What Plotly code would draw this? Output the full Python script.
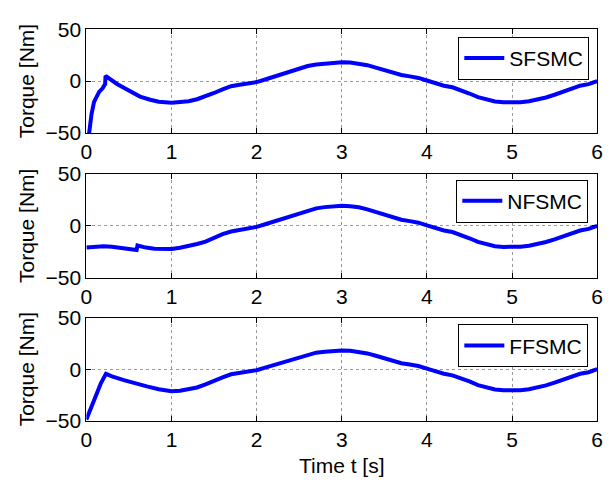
import plotly.graph_objects as go

# ---------------- data ----------------
t_sf = [0.02, 0.03, 0.06, 0.09, 0.12, 0.15, 0.19, 0.22, 0.225, 0.3, 0.36, 0.45, 0.55, 0.63, 0.75, 0.85,
        1.0, 1.1, 1.2, 1.3, 1.4, 1.5, 1.6, 1.7, 1.8, 1.9, 2.0, 2.1, 2.2, 2.3, 2.4, 2.5, 2.6, 2.7, 2.8, 2.9,
        3.0, 3.1, 3.2, 3.3, 3.4, 3.5, 3.6, 3.7, 3.8, 3.9, 4.0, 4.1, 4.2, 4.3, 4.4, 4.5, 4.6, 4.7, 4.8, 4.9,
        5.0, 5.1, 5.2, 5.3, 5.4, 5.5, 5.6, 5.7, 5.8, 5.9, 6.0]
v_sf = [-58, -50, -32, -20, -14, -10.4, -7, -3, 5, 0, -2.8, -7, -12, -15, -18, -20,
        -21, -20.6, -19.5, -17.5, -14.7, -11.5, -8, -5, -3.5, -2.5, -1, 1.5, 4, 6.2, 9, 12, 14.5, 16, 17, 17.8,
        18.2, 17.8, 17, 15.3, 13, 10.5, 8, 5.8, 4.5, 3, 0.5, -2.5, -4.5, -6, -8.5, -12, -15.5, -18, -19.7, -20.5,
        -20.8, -20.5, -19.5, -18, -15.8, -13.2, -10, -6.8, -4.5, -3, 0]

t_nf = [0.0, 0.1, 0.2, 0.3, 0.4, 0.5, 0.59, 0.6, 0.7, 0.8, 0.9,
        1.0, 1.1, 1.2, 1.3, 1.4, 1.5, 1.6, 1.7, 1.8, 1.9, 2.0, 2.1, 2.2, 2.3, 2.4, 2.5, 2.6, 2.7, 2.8, 2.9,
        3.0, 3.1, 3.2, 3.3, 3.4, 3.5, 3.6, 3.7, 3.8, 3.9, 4.0, 4.1, 4.2, 4.3, 4.4, 4.5, 4.6, 4.7, 4.8, 4.9,
        5.0, 5.1, 5.2, 5.3, 5.4, 5.5, 5.6, 5.7, 5.8, 5.9, 6.0]
v_nf = [-21, -20, -19.6, -20.2, -21.5, -22.5, -23.3, -19, -21, -22, -22.5,
        -22.3, -21.2, -19.6, -17.5, -15.2, -11.5, -8, -5.5, -4, -2.8, -1, 1.5, 4, 6.5, 9.5, 12.5, 15, 16.8, 18, 18.8,
        19.2, 18.8, 17.8, 15.8, 13.3, 10.5, 8, 5.8, 4.5, 3, 0.5, -2.5, -4.5, -6, -8.5, -12, -15.5, -18, -19.7, -20.3,
        -20.5, -20.2, -19.2, -17.8, -15.6, -13, -10, -6.8, -4.5, -3, 0]

t_ff = [0.0, 0.05, 0.09, 0.13, 0.17, 0.23, 0.3, 0.44, 0.55, 0.71, 0.85,
        1.0, 1.1, 1.2, 1.3, 1.4, 1.5, 1.6, 1.7, 1.8, 1.9, 2.0, 2.1, 2.2, 2.3, 2.4, 2.5, 2.6, 2.7, 2.8, 2.9,
        3.0, 3.1, 3.2, 3.3, 3.4, 3.5, 3.6, 3.7, 3.8, 3.9, 4.0, 4.1, 4.2, 4.3, 4.4, 4.5, 4.6, 4.7, 4.8, 4.9,
        5.0, 5.1, 5.2, 5.3, 5.4, 5.5, 5.6, 5.7, 5.8, 5.9, 6.0]
v_ff = [-49, -38, -29, -21, -13.8, -4.6, -7, -10.7, -13.5, -16.8, -19.5,
        -21.5, -21, -19.8, -17.8, -14.8, -11, -8, -5, -3.5, -2.5, -1, 1.5, 4, 6.2, 9, 12, 14.5, 16, 17, 17.8,
        18.2, 17.8, 17, 15.3, 13, 10.5, 8, 5.8, 4.5, 3, 0.5, -2.5, -4.5, -6, -8.5, -12, -15.5, -18, -19.7, -20.5,
        -20.8, -20.5, -19.5, -18, -15.8, -13.2, -10, -6.8, -4.5, -3, 0]

series_names = ["SFSMC", "NFSMC", "FFSMC"]
x_ticks = [0, 1, 2, 3, 4, 5, 6]
y_ticks = [-50, 0, 50]

# ---------------- figure ----------------
W, H = 610, 483
FONT = "Liberation Sans, Arial, sans-serif"
FS = 21
x0, x1 = 82 / W, 603 / W
panels = [(18, 127), (170, 279), (321, 429)]     # pixel top/bottom of each plot area
legend_boxes = [(595, 26), (594, 176), (594, 328)]  # right, top in pixels

fig = go.Figure()
data = [(t_sf, v_sf), (t_nf, v_nf), (t_ff, v_ff)]
for i, ((tt, vv), name) in enumerate(zip(data, series_names)):
    sfx = "" if i == 0 else str(i + 1)
    fig.add_trace(go.Scatter(
        x=tt, y=vv, mode="lines", name=name,
        line=dict(color="#0000FF", width=4),
        xaxis="x" + sfx, yaxis="y" + sfx,
        legend="legend" + sfx,
    ))

axis_common = dict(
    showline=True, linecolor="black", linewidth=1, mirror="ticks",
    ticks="inside", ticklen=5, tickcolor="black",
    showgrid=True, gridcolor="#9a9a9a", gridwidth=1, griddash="dot",
    zeroline=False, tickfont=dict(family=FONT, size=FS, color="black"),
)

layout = dict(
    width=W, height=H, margin=dict(l=0, r=0, t=0, b=0),
    paper_bgcolor="white", plot_bgcolor="white",
    font=dict(family=FONT, size=FS, color="black"),
    showlegend=True,
)
for i, (top, bot) in enumerate(panels):
    sfx = "" if i == 0 else str(i + 1)
    ydom = [1 - bot / H, 1 - top / H]
    xa = dict(axis_common, domain=[x0, x1], range=[0, 6], tickvals=x_ticks,
              anchor="y" + sfx)
    if i == 2:
        xa["title"] = dict(text="Time t [s]", font=dict(family=FONT, size=FS), standoff=8)
    ya = dict(axis_common, domain=ydom, range=[-50, 50], tickvals=y_ticks,
              anchor="x" + sfx,
              title=dict(text="Torque [Nm]", font=dict(family=FONT, size=FS), standoff=5))
    layout["xaxis" + sfx] = xa
    layout["yaxis" + sfx] = ya
    r, tp = legend_boxes[i]
    layout["legend" + sfx] = dict(
        x=r / W, xanchor="right", y=1 - tp / H, yanchor="top",
        bordercolor="black", borderwidth=1, bgcolor="white",
        font=dict(family=FONT, size=FS, color="black"),
        itemwidth=40, tracegroupgap=0,
    )

fig.update_layout(**layout)
fig.write_html("out.html")
